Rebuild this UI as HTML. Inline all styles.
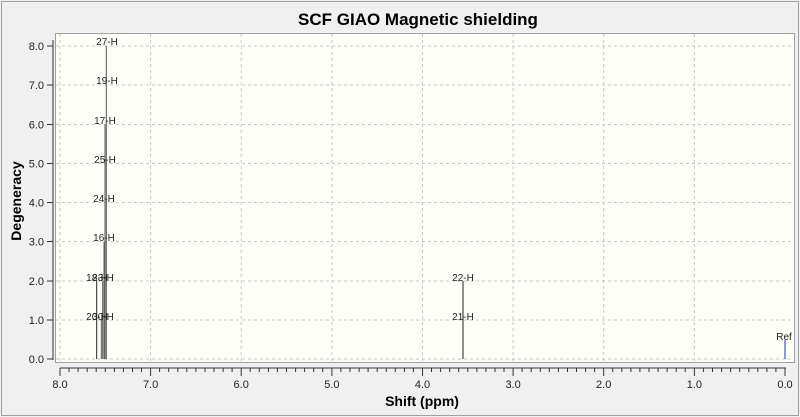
<!DOCTYPE html>
<html><head><style>
body{margin:0;background:#f0f0f0;}
svg{display:block;font-family:"Liberation Sans",sans-serif;}
</style></head><body>
<svg width="800" height="417" viewBox="0 0 800 417">
<rect x="0" y="0" width="800" height="417" fill="#f0f0f0"/>
<rect x="1.5" y="1.5" width="797" height="414" fill="none" stroke="#a0a0a0"/>
<text x="418" y="25" font-size="17" font-weight="bold" text-anchor="middle" fill="#000">SCF GIAO Magnetic shielding</text>
<rect x="55.5" y="33.5" width="739" height="329" fill="#fefef8" stroke="#a0a0a0"/>
<g stroke="#c8c8c8" stroke-dasharray="3,3">
<line x1="56" x2="794" y1="46" y2="46"/><line x1="56" x2="794" y1="85" y2="85"/>
<line x1="56" x2="794" y1="124.5" y2="124.5"/><line x1="56" x2="794" y1="163.5" y2="163.5"/>
<line x1="56" x2="794" y1="202.5" y2="202.5"/><line x1="56" x2="794" y1="241.5" y2="241.5"/>
<line x1="56" x2="794" y1="281" y2="281"/><line x1="56" x2="794" y1="320" y2="320"/>
<line x1="56" x2="794" y1="359" y2="359"/>
<line x1="60" x2="60" y1="34" y2="362"/><line x1="150.6" x2="150.6" y1="34" y2="362"/>
<line x1="241.2" x2="241.2" y1="34" y2="362"/><line x1="331.9" x2="331.9" y1="34" y2="362"/>
<line x1="422.5" x2="422.5" y1="34" y2="362"/><line x1="513.1" x2="513.1" y1="34" y2="362"/>
<line x1="603.7" x2="603.7" y1="34" y2="362"/><line x1="694.4" x2="694.4" y1="34" y2="362"/>
</g>
<!-- y axis -->
<g stroke="#333" stroke-width="1">
<line x1="53" x2="53" y1="40" y2="360"/>
<line x1="47" x2="53" y1="46" y2="46"/><line x1="47" x2="53" y1="85" y2="85"/>
<line x1="47" x2="53" y1="124.5" y2="124.5"/><line x1="47" x2="53" y1="163.5" y2="163.5"/>
<line x1="47" x2="53" y1="202.5" y2="202.5"/><line x1="47" x2="53" y1="241.5" y2="241.5"/>
<line x1="47" x2="53" y1="281" y2="281"/><line x1="47" x2="53" y1="320" y2="320"/>
<line x1="47" x2="53" y1="359" y2="359"/>
</g>
<g font-size="11" fill="#222" text-anchor="end">
<text x="44" y="50">8.0</text><text x="44" y="89">7.0</text><text x="44" y="128.5">6.0</text>
<text x="44" y="167.5">5.0</text><text x="44" y="206.5">4.0</text><text x="44" y="245.5">3.0</text>
<text x="44" y="285">2.0</text><text x="44" y="324">1.0</text><text x="44" y="363">0.0</text>
</g>
<text transform="translate(21,201) rotate(-90)" font-size="14" font-weight="bold" text-anchor="middle">Degeneracy</text>
<!-- x axis -->
<g stroke="#333">
<line x1="60" x2="786" y1="368" y2="368"/>
<g id="tk">
<line x1="60" x2="60" y1="368" y2="376"/>
<line x1="69" x2="69" y1="368" y2="372"/><line x1="78.1" x2="78.1" y1="368" y2="372"/>
<line x1="87.2" x2="87.2" y1="368" y2="372"/><line x1="96.2" x2="96.2" y1="368" y2="372"/>
<line x1="105.3" x2="105.3" y1="368" y2="372"/><line x1="114.4" x2="114.4" y1="368" y2="372"/>
<line x1="123.4" x2="123.4" y1="368" y2="372"/><line x1="132.5" x2="132.5" y1="368" y2="372"/>
<line x1="141.5" x2="141.5" y1="368" y2="372"/>
</g>
<use href="#tk" x="90.6"/><use href="#tk" x="181.2"/><use href="#tk" x="271.9"/>
<use href="#tk" x="362.5"/><use href="#tk" x="453.1"/><use href="#tk" x="543.7"/><use href="#tk" x="634.4"/>
<line x1="785" x2="785" y1="368" y2="376"/>
</g>
<g font-size="11" fill="#222" text-anchor="middle">
<text x="60" y="388">8.0</text><text x="150.6" y="388">7.0</text><text x="241.2" y="388">6.0</text>
<text x="331.9" y="388">5.0</text><text x="422.5" y="388">4.0</text><text x="513.1" y="388">3.0</text>
<text x="603.7" y="388">2.0</text><text x="694.4" y="388">1.0</text><text x="785" y="388">0.0</text>
</g>
<text x="422" y="406" font-size="14" font-weight="bold" text-anchor="middle">Shift (ppm)</text>
<!-- peaks -->
<g stroke="#222" stroke-width="1">
<line x1="96.7" x2="96.7" y1="281" y2="359"/>
<line x1="101.3" x2="101.3" y1="320" y2="359" stroke="#555"/>
<line x1="102.7" x2="102.7" y1="281" y2="359" stroke="#555"/>
<line x1="104" x2="104" y1="241.5" y2="359" stroke="#666"/>
<line x1="105" x2="105" y1="124.5" y2="359" stroke="#555"/>
<line x1="106.3" x2="106.3" y1="46" y2="359" stroke="#555"/>
<line x1="463" x2="463" y1="281" y2="359"/>
<line x1="785" x2="785" y1="340" y2="359" stroke="#2030d0"/>
</g>
<g font-size="10" fill="#222" text-anchor="middle">
<text x="107" y="45">27-H</text><text x="107" y="84">19-H</text>
<text x="105" y="124">17-H</text><text x="105" y="163">25-H</text>
<text x="104" y="202">24-H</text><text x="104" y="241">16-H</text>
<text x="97" y="281">18-H</text><text x="103" y="281">23-H</text>
<text x="97" y="320">20-H</text><text x="103" y="320">30-H</text>
<text x="463" y="281">22-H</text><text x="463" y="320">21-H</text>
<text x="784" y="340">Ref</text>
</g>
</svg>
</body></html>
